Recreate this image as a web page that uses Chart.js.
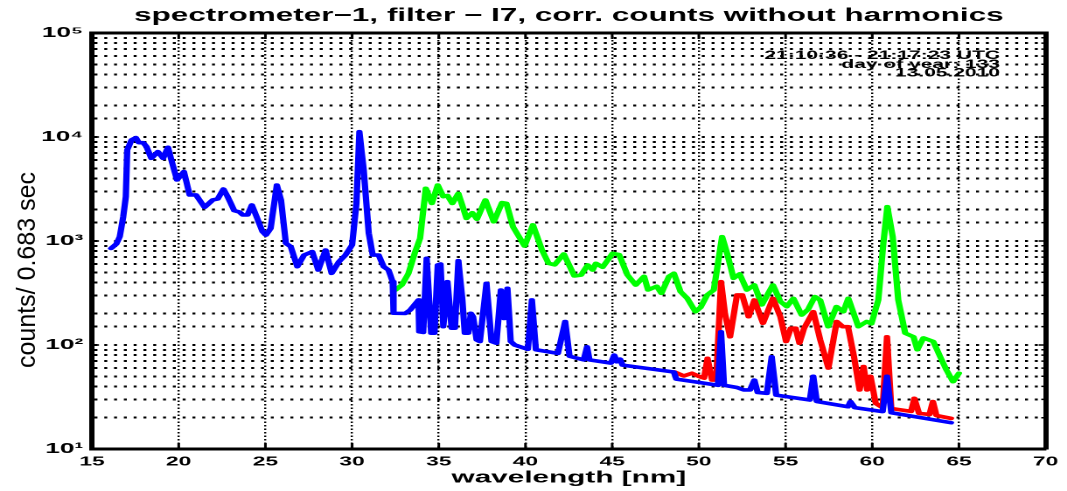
<!DOCTYPE html>
<html>
<head>
<meta charset="utf-8">
<script src="https://cdn.jsdelivr.net/npm/chart.js"></script>
<style>
  html, body { margin: 0; padding: 0; background: #fff; overflow: hidden; }
  /* the original figure is a wide stretch of a taller plot */
  #wrap { width: 610px; height: 491px; transform: scaleX(1.7492); transform-origin: 0 0; }
</style>
</head>
<body>
<div id="wrap"><canvas id="myChart" width="610" height="491"></canvas></div>
<script>
const stretch = 1067 / 610;

// blue: measured spectrum
const blueNm = [16.1, 16.4, 16.6, 16.8, 16.95, 17.03, 17.28, 17.53, 17.7, 17.95, 18.14, 18.42, 18.8, 19.1, 19.38, 19.63, 19.9, 20.3, 20.63, 21.0,
  21.49, 21.96, 22.25, 22.58, 22.82, 23.2, 23.5, 23.7, 23.97, 24.22, 24.45, 24.83, 25.03, 25.3, 25.66, 25.9, 26.18, 26.46, 26.84, 27.23,
  27.7, 28.05, 28.47, 28.82, 29.24, 29.62, 30.0, 30.25, 30.42, 30.67, 30.96, 31.19, 31.53, 31.82, 32.1, 32.34, 32.39, 33.06, 33.35, 33.83,
  33.87, 34.1, 34.3, 34.56, 34.75, 34.94, 35.1, 35.26, 35.5, 35.74, 35.93, 36.13, 36.36, 36.5, 36.7, 36.85, 36.98, 37.18, 37.37, 37.75,
  38.04, 38.32, 38.58, 38.77, 38.96, 39.15, 39.38, 40.14, 40.37, 40.6, 41.87, 42.29, 42.54, 43.36, 43.55, 43.69, 44.93, 45.12, 45.27, 45.46,
  45.6, 48.56, 48.7, 49.89, 51.1, 51.28, 51.45, 52.2, 52.58, 52.95, 53.2, 53.39, 53.92, 54.2, 54.46, 56.4, 56.6, 56.8, 58.6, 58.74,
  58.99, 60.6, 60.85, 61.1, 64.54];
const blueCounts = [850, 935, 1100, 1710, 2670, 7500, 9360, 9850, 8820, 8820, 8070, 6240, 7230, 6240, 7960, 5580, 3860, 4640, 2770, 2770,
  2110, 2480, 2540, 3160, 2670, 1960, 1900, 1780, 1780, 2220, 1780, 1230, 1140, 1320, 3450, 2480, 950, 883, 566, 733,
  789, 526, 819, 489, 632, 733, 916, 2300, 11250, 4820, 1190, 733, 733, 566, 526, 406, 202, 201, 217, 271,
  134, 132, 681, 130, 130, 588, 600, 150, 406, 145, 145, 647, 271, 130, 130, 202, 187, 112, 108, 392,
  108, 104, 338, 180, 351, 108, 100, 91, 271, 90, 83, 168, 78, 72, 96, 72, 67, 80, 69, 73,
  64, 55, 47, 44, 41, 134, 41, 39, 37, 37, 46, 35, 34.3, 77, 33, 29.6, 50, 28.6, 25.5, 28.6,
  25, 22.9, 50, 22.3, 17.9];

// green: second filter spectrum
const greenNm = [32.5, 32.87, 33.25, 33.64, 33.92, 34.25, 34.6, 34.94, 35.26, 35.5, 35.78, 36.13, 36.6, 36.93, 37.2, 37.69, 38.17, 38.65, 38.9, 39.28,
  39.95, 40.43, 40.95, 41.33, 41.68, 42.21, 42.82, 43.2, 43.59, 43.87, 44.06, 44.45, 45.02, 45.4, 45.88, 46.36, 46.84, 47.07, 47.57, 47.84,
  48.28, 48.56, 48.94, 49.33, 49.8, 50.1, 50.48, 50.86, 51.34, 51.63, 52.0, 52.35, 52.77, 53.2, 53.63, 54.27, 54.7, 55.07, 55.45, 55.93,
  56.3, 56.69, 57.0, 57.46, 57.94, 58.33, 58.62, 59.2, 59.68, 59.95, 60.35, 60.64, 60.87, 61.18, 61.5, 61.9, 62.38, 62.6, 62.95, 63.52,
  64.0, 64.28, 64.66, 65.0];
const greenCounts = [338, 378, 488, 789, 1060, 3210, 2300, 3450, 2670, 2740, 2300, 2870, 1650, 1870, 1620, 2480, 1530, 2340, 2300, 1370,
  895, 1430, 819, 610, 590, 750, 461, 470, 588, 526, 610, 560, 760, 740, 471, 378, 457, 338, 367, 314,
  457, 488, 326, 281, 209, 230, 303, 338, 1100, 760, 438, 482, 338, 378, 243, 378, 262, 234, 281, 194,
  220, 292, 270, 150, 234, 209, 281, 150, 168, 160, 271, 950, 2140, 1100, 271, 130, 120, 90, 117, 108,
  72, 57.5, 44.4, 53.5];

// red: third spectrum
const redNm = [48.6, 49.13, 49.6, 50.0, 50.3, 50.5, 50.76, 51.0, 51.28, 51.5, 51.8, 52.2, 52.5, 52.87, 53.2, 53.7, 54.27, 54.7, 55.03, 55.3,
  55.58, 55.8, 56.07, 56.6, 57.0, 57.47, 57.95, 58.3, 58.6, 58.95, 59.27, 59.5, 59.71, 59.9, 60.2, 60.6, 60.85, 61.1, 62.24, 62.43,
  62.7, 63.3, 63.5, 63.7, 64.54];
const redCounts = [55, 50.4, 53.5, 50, 48, 74.5, 46, 46, 406, 202, 120, 303, 303, 187, 271, 162, 281, 187, 108, 145,
  145, 104, 145, 209, 112, 60, 168, 150, 150, 77, 37, 62, 37, 50, 27.5, 25, 120, 24.5, 23, 30.7,
  22, 21.5, 28.6, 21, 19.7];

const yTickLabels = { 1: "10¹", 2: "10²", 3: "10³", 4: "10⁴", 5: "10⁵" };
const infoLines = ["21:10:36 - 21:17:23 UTC", "day of year: 133", "13.05.2010"];

function pts(nm, counts) {
  return nm.map((x, i) => ({ x: x, y: counts[i] }));
}

function decadeLabel(v) {
  const e = Math.round(Math.log10(v));
  return Math.abs(v - Math.pow(10, e)) < 1e-6 ? yTickLabels[e] || "" : "";
}

// small ticks inside the box, like the original
const insideTicks = {
  id: "insideTicks",
  afterDraw(chart) {
    const { ctx, chartArea: a, scales } = chart;
    ctx.save();
    ctx.strokeStyle = "#000";
    ctx.lineWidth = 1.5;
    ctx.beginPath();
    scales.x.ticks.forEach(t => {
      const px = scales.x.getPixelForValue(t.value);
      ctx.moveTo(px, a.bottom); ctx.lineTo(px, a.bottom - 6);
      ctx.moveTo(px, a.top); ctx.lineTo(px, a.top + 6);
    });
    scales.y.ticks.forEach(t => {
      const py = scales.y.getPixelForValue(t.value);
      const len = decadeLabel(t.value) ? 4 : 2.5;
      ctx.moveTo(a.left, py); ctx.lineTo(a.left + len, py);
      ctx.moveTo(a.right, py); ctx.lineTo(a.right - len, py);
    });
    ctx.stroke();
    ctx.restore();
  }
};

const sideTexts = {
  id: "sideTexts",
  afterDraw(chart) {
    const ctx = chart.ctx;
    ctx.save();
    ctx.fillStyle = "#000";
    // y label was not widened in the original
    ctx.translate(16, 270);
    ctx.rotate(-Math.PI / 2);
    ctx.scale(1, 1 / stretch);
    ctx.font = '25px "Liberation Sans", Arial, sans-serif';
    ctx.textAlign = "center";
    ctx.textBaseline = "middle";
    ctx.fillText("counts/ 0.683 sec", 0, 0);
    ctx.restore();

    ctx.save();
    ctx.fillStyle = "#000";
    ctx.font = 'bold 12px "Liberation Sans", Arial, sans-serif';
    ctx.textAlign = "right";
    ctx.textBaseline = "alphabetic";
    infoLines.forEach((s, i) => ctx.fillText(s, 571.7, 59 + i * 8.8));
    ctx.restore();
  }
};

Chart.defaults.font.family = '"Liberation Sans", Arial, sans-serif';
Chart.defaults.color = "#000";

const config = {
  type: "line",
  data: {
    datasets: [
      { label: "blue", data: pts(blueNm, blueCounts), borderColor: "#0000ff", backgroundColor: "#0000ff", order: 1 },
      { label: "red", data: pts(redNm, redCounts), borderColor: "#ff0000", backgroundColor: "#ff0000", order: 2 },
      { label: "green", data: pts(greenNm, greenCounts), borderColor: "#00ff00", backgroundColor: "#00ff00", order: 3 },
    ],
  },
  options: {
    responsive: false,
    animation: false,
    devicePixelRatio: 2,
    layout: { padding: { left: 0, right: 10, top: 0, bottom: 0 } },
    elements: {
      point: { radius: 0 },
      line: { borderWidth: 3.6, tension: 0, borderJoinStyle: "round", borderCapStyle: "round" },
    },
    plugins: {
      legend: { display: false },
      tooltip: { enabled: false },
      title: {
        display: true,
        fullSize: false,
        text: "spectrometer−1, filter − I7, corr. counts without harmonics",
        color: "#000",
        font: { size: 18, weight: "bold" },
        padding: { top: 5, bottom: 6.4 },
      },
    },
    scales: {
      x: {
        type: "linear",
        min: 15,
        max: 70,
        ticks: { stepSize: 5, font: { size: 13, weight: "bold" }, padding: 5, maxRotation: 0 },
        grid: { color: "#000", lineWidth: 1.2, drawTicks: false },
        border: { color: "#000", width: 3, dash: [1.5, 2] },
        title: { display: true, text: "wavelength [nm]", font: { size: 17, weight: "bold" }, padding: { top: 0, bottom: 3 } },
        afterFit(s) { s.height = 42; },
      },
      y: {
        type: "logarithmic",
        min: 10,
        max: 100000,
        ticks: { autoSkip: false, font: { size: 15, weight: "bold" }, padding: 5, callback: v => decadeLabel(v) },
        grid: { color: "#000", lineWidth: 2, drawTicks: false },
        border: { color: "#000", width: 3, dash: [1.7, 3.9] },
        afterFit(s) { s.width = 52.6; },
      },
      x2: {
        type: "linear",
        position: "top",
        min: 15,
        max: 70,
        ticks: { display: false },
        grid: { display: false, drawTicks: false },
        border: { color: "#000", width: 3 },
      },
      y2: {
        type: "linear",
        position: "right",
        min: 0,
        max: 1,
        ticks: { display: false },
        grid: { display: false, drawTicks: false },
        border: { color: "#000", width: 3 },
      },
    },
  },
  plugins: [insideTicks, sideTexts],
};

const myChart = new Chart(document.getElementById("myChart"), config);
</script>
</body>
</html>
